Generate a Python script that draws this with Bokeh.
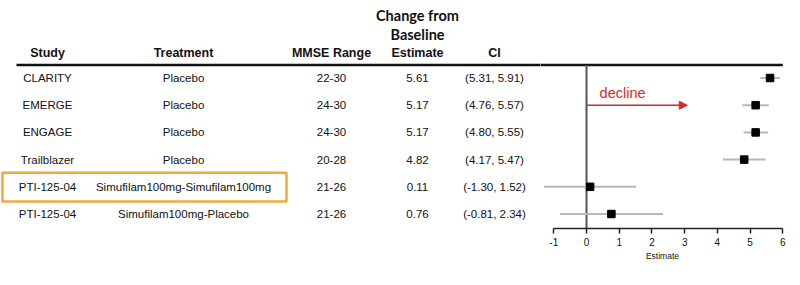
from bokeh.plotting import figure
from bokeh.layouts import row
from bokeh.models import Range1d, LinearAxis, FixedTicker, Arrow, NormalHead, Label, ColumnDataSource
from bokeh.core.properties import value
from bokeh.embed import file_html
from bokeh.resources import INLINE

# ---- data ----
studies = ["CLARITY", "EMERGE", "ENGAGE", "Trailblazer", "PTI-125-04", "PTI-125-04"]
treatments = ["Placebo", "Placebo", "Placebo", "Placebo",
              "Simufilam100mg-Simufilam100mg", "Simufilam100mg-Placebo"]
mmse_ranges = ["22-30", "24-30", "24-30", "20-28", "21-26", "21-26"]
estimates = [5.61, 5.17, 5.17, 4.82, 0.11, 0.76]
ci_low = [5.31, 4.76, 4.80, 4.17, -1.30, -0.81]
ci_high = [5.91, 5.57, 5.55, 5.47, 1.52, 2.34]
x_ticks = [-1, 0, 1, 2, 3, 4, 5, 6]
highlight_row = 4

# ---- layout helpers ----
ROW0_PX, ROW_STEP = 77.5, 27.2
FRAME_H = 228
H = 285
def row_of(px):
    return (px - ROW0_PX) / ROW_STEP

LEFT_W = 540
PX_M1, PX_6 = 553.3, 782.3
PPU = (PX_6 - PX_M1) / 7.0
PX_0 = PX_M1 + PPU
FOREST_RIGHT_PX = 784
est_start = (LEFT_W - PX_0) / PPU
est_end = (FOREST_RIGHT_PX - PX_0) / PPU

rows = list(range(len(studies)))
src = ColumnDataSource(dict(
    row=rows, study=studies, treat=treatments, mmse=mmse_ranges,
    est=estimates, est_txt=[f"{e:.2f}" for e in estimates],
    lo=ci_low, hi=ci_high,
    ci_txt=[f"({a:.2f}, {b:.2f})" for a, b in zip(ci_low, ci_high)],
))

y_range = Range1d(row_of(FRAME_H), row_of(0))

def base_fig(width, x_range, right=0):
    f = figure(width=width, height=H, x_range=x_range, y_range=y_range,
               output_backend="svg", toolbar_location=None,
               x_axis_location=None, y_axis_location=None,
               min_border=0, min_border_bottom=H - FRAME_H, min_border_right=right)
    f.outline_line_color = None
    f.grid.grid_line_color = None
    f.background_fill_color = "white"
    f.border_fill_color = "white"
    return f

FONT = value("Liberation Sans")
TXT = "#111111"
RULE_Y = row_of(64.5)

# ================= table =================
t = base_fig(LEFT_W, Range1d(0, LEFT_W))

col_x = {"study": 47, "treat": 183, "mmse": 331, "est_txt": 417, "ci_txt": 494}
for key, cx in col_x.items():
    t.text(x=cx, y="row", text=key, source=src, text_font=FONT,
           text_font_size="11.5px", text_align="center",
           text_baseline="middle", text_color=TXT)

hdr_y = row_of(52)
for txt, cx in [("Study", 47), ("Treatment", 183), ("MMSE Range", 331),
                ("Estimate", 417), ("CI", 494)]:
    t.text(x=[cx], y=[hdr_y], text=[txt], text_font=FONT, text_font_size="12.5px",
           text_font_style="bold", text_align="center", text_baseline="middle",
           text_color=TXT)
for txt, py in [("Change from", 15), ("Baseline", 33.5)]:
    t.text(x=[417], y=[row_of(py)], text=[txt], text_font=value("Lato"),
           text_font_size="14.5px", text_font_style="bold", text_align="center",
           text_baseline="middle", text_color=TXT)

t.segment(x0=[16], x1=[LEFT_W + 1], y0=[RULE_Y], y1=[RULE_Y],
          line_color="#111111", line_width=2.5)

t.quad(left=[2], right=[286], top=[highlight_row - 0.52], bottom=[highlight_row + 0.54],
       fill_color=None, line_color="#F2A93B", line_width=2.5)

# ================= forest =================
f = base_fig(800 - LEFT_W, Range1d(est_start, est_end), right=800 - FOREST_RIGHT_PX)

f.segment(x0=[est_start - 0.1], x1=[6.0], y0=[RULE_Y], y1=[RULE_Y],
          line_color="#111111", line_width=2.5)
f.segment(x0=[0], x1=[0], y0=[RULE_Y], y1=[row_of(FRAME_H)],
          line_color="#555555", line_width=2)

f.segment(x0="lo", x1="hi", y0="row", y1="row", source=src,
          line_color="#b8b8b8", line_width=2)
f.scatter(x="est", y="row", source=src, marker="square",
          size=7.5, fill_color="black", line_color="black")

RED = "#d42a2a"
f.add_layout(Arrow(x_start=0, y_start=1, x_end=3.08, y_end=1,
                   line_color=RED, line_width=1.5,
                   end=NormalHead(size=8, fill_color=RED, line_color=RED)))
f.add_layout(Label(x=0.4, y=row_of(92), text="decline",
                   text_font="Liberation Sans", text_font_size="14.5px",
                   text_color=RED, text_baseline="middle"))

ax = LinearAxis(ticker=FixedTicker(ticks=x_ticks), bounds=(-1, 6), axis_label="Estimate")
ax.major_label_overrides = {-1: "-1"}
ax.major_tick_in = 0
ax.major_tick_out = 5
ax.minor_tick_out = 0
ax.minor_tick_in = 0
ax.axis_line_color = "#222222"
ax.axis_line_width = 1.5
ax.major_tick_line_color = "#222222"
ax.major_tick_line_width = 1.5
ax.major_label_text_font = "Liberation Sans"
ax.major_label_text_font_size = "10px"
ax.major_label_text_color = TXT
ax.major_label_standoff = 4
ax.axis_label_text_font = "Liberation Sans"
ax.axis_label_text_font_size = "8.5px"
ax.axis_label_text_font_style = "normal"
ax.axis_label_text_color = TXT
ax.axis_label_standoff = 2
f.add_layout(ax, "below")

layout = row(t, f)
open("out.html", "w").write(file_html(layout, INLINE))
